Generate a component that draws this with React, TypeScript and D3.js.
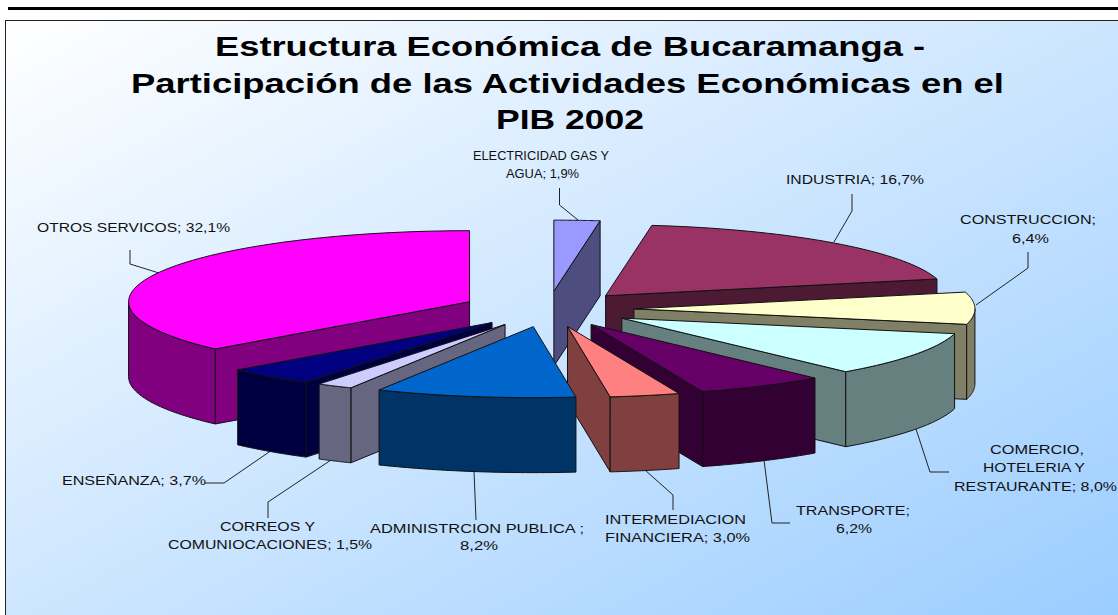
import React from "react";
import * as d3 from "d3";

// ---- data, clockwise from twelve o'clock ----
const categories = [
  "ELECTRICIDAD GAS Y AGUA",
  "INDUSTRIA",
  "CONSTRUCCION",
  "COMERCIO, HOTELERIA Y RESTAURANTE",
  "TRANSPORTE",
  "INTERMEDIACION FINANCIERA",
  "ADMINISTRCION PUBLICA",
  "CORREOS Y COMUNIOCACIONES",
  "ENSEÑANZA",
  "OTROS SERVICOS",
];
// Slice sizes as drawn in the picture. Their printed labels are in labelLayout;
// the picture's slices for COMERCIO and TRANSPORTE differ a little from what is printed.
const shares = [1.9, 16.7, 6.4, 8.85, 5.35, 2.9, 8.3, 1.5, 3.7, 32.1];
const titleLines = [
  "Estructura Económica de Bucaramanga -",
  "Participación de las Actividades Económicas en el",
  "PIB 2002",
];

// ---- styling and layout, separate from the data ----
const topColors = ["#9999ff", "#993366", "#ffffcc", "#ccffff", "#660066", "#ff8080", "#0066cc", "#ccccff", "#000080", "#ff00ff"];
const W = 1118, H = 615;
const CX = 548, CY = 309, RX = 341, RY = 71, DEPTH = 75, EXPLODE = 0.252;
const FONT = "'Liberation Sans', Arial, sans-serif";

const titleLayout = [
  { x: 215, y: 56, w: 710 },
  { x: 131, y: 93, w: 873 },
  { x: 496, y: 129, w: 148 },
];

type Line = { t: string; x: number; y: number; w: number };
const labelLayout: Line[][] = [
  [{ t: "ELECTRICIDAD GAS Y", x: 473, y: 160, w: 136 }, { t: "AGUA; 1,9%", x: 506, y: 178, w: 73 }],
  [{ t: "INDUSTRIA; 16,7%", x: 786, y: 184, w: 138 }],
  [{ t: "CONSTRUCCION;", x: 960, y: 224, w: 136 }, { t: "6,4%", x: 1012, y: 243, w: 37 }],
  [{ t: "COMERCIO,", x: 990, y: 454, w: 94 }, { t: "HOTELERIA Y", x: 983, y: 472, w: 102 }, { t: "RESTAURANTE; 8,0%", x: 954, y: 491, w: 163 }],
  [{ t: "TRANSPORTE;", x: 796, y: 515, w: 114 }, { t: "6,2%", x: 836, y: 533, w: 36 }],
  [{ t: "INTERMEDIACION", x: 605, y: 524, w: 141 }, { t: "FINANCIERA; 3,0%", x: 605, y: 542, w: 145 }],
  [{ t: "ADMINISTRCION PUBLICA ;", x: 370, y: 533, w: 214 }, { t: "8,2%", x: 460, y: 550, w: 38 }],
  [{ t: "CORREOS Y", x: 220, y: 531, w: 95 }, { t: "COMUNIOCACIONES; 1,5%", x: 168, y: 549, w: 204 }],
  [{ t: "ENSEÑANZA; 3,7%", x: 62, y: 485, w: 144 }],
  [{ t: "OTROS SERVICOS; 32,1%", x: 37, y: 232, w: 193 }],
];
const leaderLayout: [number, number][][] = [
  [[559.5, 188], [559.5, 205], [578, 220]],
  [[852, 194], [852, 211], [834, 242]],
  [[1028, 252], [1028, 268], [976, 305]],
  [[916, 429], [930, 472], [949, 472]],
  [[764, 460], [772, 523], [790, 523]],
  [[645, 470], [673, 495], [673, 510]],
  [[474, 471], [476, 520]],
  [[331, 460], [268, 502], [268, 518]],
  [[272, 450], [224, 483], [205, 483]],
  [[130, 250], [130, 264], [159, 273]],
];

// ---- geometry ----
const pie = d3.pie<number>().sort(null).startAngle(0).endAngle(2 * Math.PI);
const unitX = d3.scaleLinear().domain([-1, 1]).range([-RX, RX]);
const unitY = d3.scaleLinear().domain([-1, 1]).range([-RY, RY]);
const line = d3.line<[number, number]>().x((d) => d[0]).y((d) => d[1]).curve(d3.curveLinear);
const closed = (p: [number, number][]) => line(p) + "Z";
const leaderPath = d3.line<[number, number]>();

type Pt = [number, number];
const arcPts = (ax: number, ay: number, a0: number, a1: number): Pt[] =>
  d3.range(0, 41).map((i) => {
    const a = a0 + ((a1 - a0) * i) / 40;
    return [ax + unitX(Math.sin(a)), ay + unitY(-Math.cos(a))] as Pt;
  });
const drop = (p: Pt[]): Pt[] => p.map(([x, y]) => [x, y + DEPTH] as Pt);

const wedges = pie(shares).map((d, i) => {
  const mid = (d.startAngle + d.endAngle) / 2;
  const ax = CX + EXPLODE * unitX(Math.sin(mid));
  const ay = CY + EXPLODE * unitY(-Math.cos(mid));
  const apex: Pt = [ax, ay];
  const arc = arcPts(ax, ay, d.startAngle, d.endAngle);
  const top = closed([apex, ...arc]);
  const c = d3.rgb(topColors[i]);
  const wallColor = d3.rgb(c.r / 2, c.g / 2, c.b / 2).formatHex();
  const walls: string[] = [];
  // radial cut walls, seen only when they face the viewer
  if (Math.sin(d.startAngle) < -1e-6) {
    const e = [apex, arc[0]];
    walls.push(closed([...e, ...drop(e).reverse()]));
  }
  if (Math.sin(d.endAngle) > 1e-6) {
    const e = [apex, arc[arc.length - 1]];
    walls.push(closed([...e, ...drop(e).reverse()]));
  }
  // outer rim, front half only
  const lo = Math.max(d.startAngle, Math.PI / 2);
  const hi = Math.min(d.endAngle, (3 * Math.PI) / 2);
  if (hi > lo) {
    const rim = arcPts(ax, ay, lo, hi);
    walls.push(closed([...rim, ...drop(rim).reverse()]));
  }
  return { i, order: -Math.cos(mid), top, walls, topColor: topColors[i], wallColor, name: categories[i] };
});
const painted = [...wedges].sort((a, b) => d3.ascending(a.order, b.order));

export default function App() {
  return (
    <svg width={W} height={H} viewBox={`0 0 ${W} ${H}`} style={{ position: "absolute", left: 0, top: 0, display: "block", background: "#fff" }}>
      <defs>
        <linearGradient id="bg" x1="0" y1="0" x2="1" y2="1">
          <stop offset="0" stopColor="#ffffff" />
          <stop offset="1" stopColor="#99ccff" />
        </linearGradient>
      </defs>
      <rect x={8} y={7} width={W - 8} height={3} fill="#000" />
      <rect x={5.5} y={20.5} width={W} height={H} fill="url(#bg)" stroke="#222" strokeWidth={1} />
      {titleLines.map((t, i) => (
        <text key={t} x={titleLayout[i].x} y={titleLayout[i].y} textLength={titleLayout[i].w} lengthAdjust="spacingAndGlyphs"
          fontFamily={FONT} fontWeight={700} fontSize={28.5} fill="#000">{t}</text>
      ))}
      {leaderLayout.map((p, i) => (
        <path key={i} d={leaderPath(p) || ""} fill="none" stroke="#222" strokeWidth={1} />
      ))}
      {painted.map((w) => (
        <g key={w.i} stroke="#111" strokeWidth={1} strokeLinejoin="round">
          <title>{w.name}</title>
          {w.walls.map((d, k) => <path key={k} d={d} fill={w.wallColor} />)}
          <path d={w.top} fill={w.topColor} />
        </g>
      ))}
      {labelLayout.map((lines, i) => (
        <g key={i} fontFamily={FONT} fontSize={13.5} fill="#111">
          {lines.map((l) => (
            <text key={l.t} x={l.x} y={l.y} textLength={l.w} lengthAdjust="spacingAndGlyphs">{l.t}</text>
          ))}
        </g>
      ))}
    </svg>
  );
}
